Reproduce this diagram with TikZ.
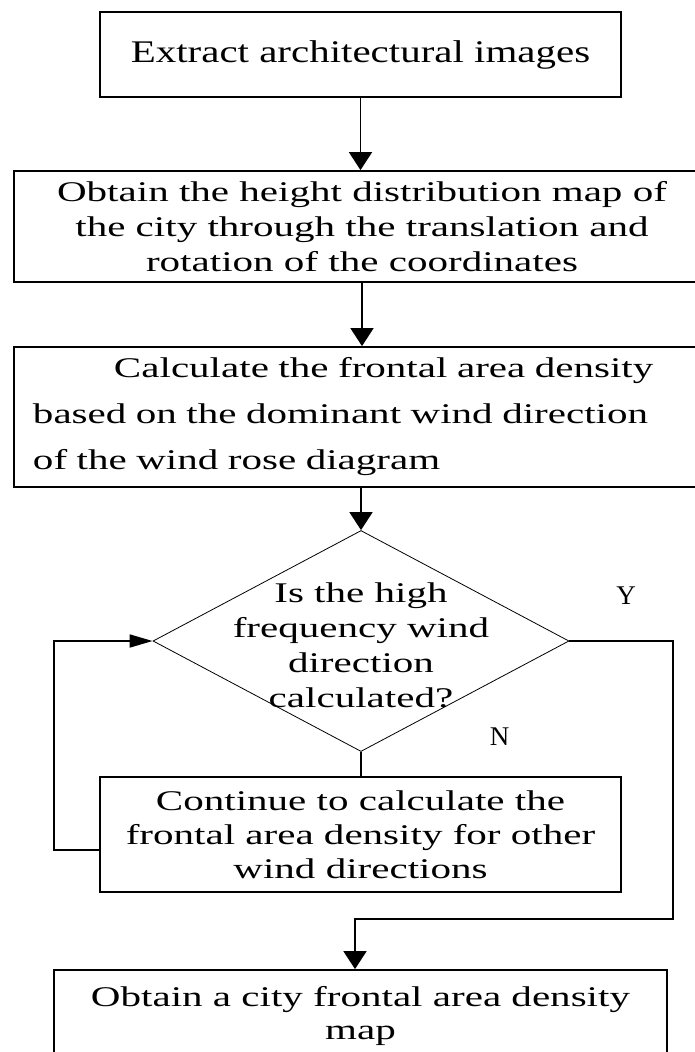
\documentclass[tikz,border=0pt]{standalone}
\usepackage{fontspec}
\setmainfont[FakeStretch=1.44]{Liberation Serif}
\newfontfamily\wideA[FakeStretch=1.30]{Liberation Serif}
\newfontfamily\plainserif{Liberation Serif}
\usetikzlibrary{shapes.geometric,arrows.meta}
\begin{document}
\begin{tikzpicture}[x=1pt,y=-1pt,
  box/.style={draw, line width=1.8pt, rectangle, inner sep=0pt, align=center},
  flow/.style={line width=1.8pt},
  vtip/.style={-{Triangle[length=18pt,width=23pt]}},
  htip/.style={-{Triangle[length=23pt,width=13pt]}},
  yn/.style={font=\plainserif\fontsize{27}{30}\selectfont, inner sep=0pt}]
\useasboundingbox (0,0) rectangle (695,1052);
\clip (0,0) rectangle (695,1052);
\node[box, minimum width=521pt, minimum height=85pt, font=\wideA\fontsize{31.5}{36}\selectfont] (b1) at (360.5,54.5) {Extract architectural images};
\node[box, minimum width=696pt, minimum height=111pt, font=\fontsize{28.5}{35}\selectfont] (b2) at (362,226.5) {Obtain the height distribution map of\\the city through the translation and\\rotation of the coordinates};
\node[box, minimum width=696pt, minimum height=140pt, text width=658pt, align=left, font=\fontsize{28.5}{46}\selectfont] (b3) at (362,417) {\hspace*{81pt}Calculate the frontal area density\\based on the dominant wind direction\\of the wind rose diagram};
\node[draw, diamond, line width=0.8pt, minimum width=416pt, minimum height=221pt, inner sep=0pt] (dec) at (361,641) {};
\node[align=center, inner sep=0pt, font=\fontsize{28.5}{35}\selectfont] (dect) at (361,645) {Is the high\\frequency wind\\direction\\calculated?};
\node[box, minimum width=521pt, minimum height=115pt, font=\fontsize{28.5}{34}\selectfont] (b4) at (360.5,834.5) {Continue to calculate the\\frontal area density for other\\wind directions};
\node[box, minimum width=613pt, minimum height=92pt, font=\fontsize{28.5}{33}\selectfont] (b5) at (360.5,1016) {Obtain a city frontal area density\\map};
\node[yn] (ly) at (626,596) {Y};
\node[yn] (ln) at (499.5,737) {N};
\coordinate (l1) at (54,850);
\coordinate (r1) at (673,919);
\coordinate (r2) at (355,919);
\draw[flow,vtip] (b1.south) -- (b1.south |- b2.north);
\draw[flow,vtip] (b2.south) -- (b2.south |- b3.north);
\draw[flow,vtip] (dec.north |- b3.south) -- (dec.north);
\draw[flow] (dec.south) -- (dec.south |- b4.north);
\draw[flow,htip] (b4.west |- l1) -- (l1) |- (dec.west);
\draw[flow,vtip] (dec.east) -| (r1) -- (r2) -- (r2 |- b5.north);
\end{tikzpicture}
\end{document}
